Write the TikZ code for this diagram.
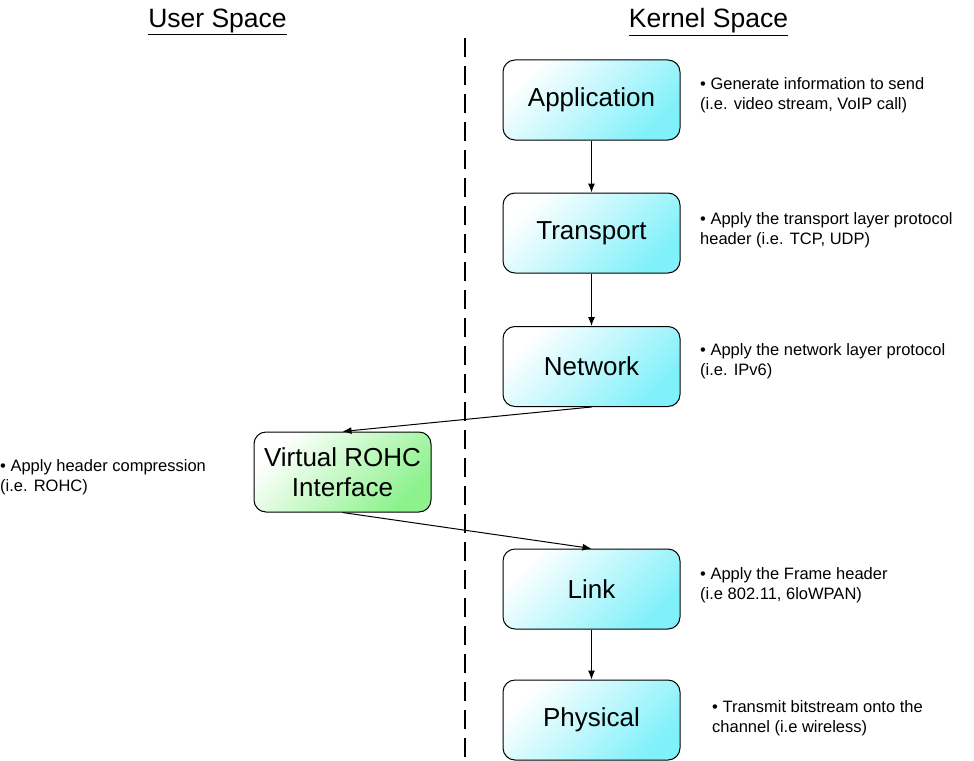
\documentclass[tikz,border=0pt]{standalone}
\usepackage{fontspec}
\setmainfont{Liberation Sans}
\usetikzlibrary{arrows.meta}
\definecolor{layercyan}{RGB}{128,240,250}
\definecolor{layergreen}{RGB}{140,242,140}
\tikzset{
  layer/.style={draw, rounded corners=12pt, line width=1pt,
    minimum width=177pt, minimum height=80pt, align=center,
    font=\fontsize{26}{30}\selectfont,
    top color=white, bottom color=#1, shading angle=45},
  layer/.default=layercyan,
  note/.style={anchor=west, align=left, inner sep=0pt,
    font=\fontsize{16.5}{19.5}\selectfont},
  head/.style={font=\fontsize{26.5}{30}\selectfont},
  flow/.style={-{Latex[length=9pt,width=7pt]}, line width=1pt}
}
\begin{document}
\begin{tikzpicture}[x=1pt,y=-1pt]
        \useasboundingbox (0,0) rectangle (974,760);
        \node[head] (U) at (217.5,22) {\underline{User Space}};
        \node[head] (K) at (708.5,22) {\underline{Kernel Space}};
        \coordinate (T) at (465,38);
        \coordinate (B) at (465,760);
        \draw[line width=2pt, dash pattern=on 19pt off 9pt] (T) -- (B);
        \node[layer] (App) at (591.5,100) {Application};
        \node[layer] (Tr) at (591.5,233) {Transport};
        \node[layer] (Net) at (591.5,366.5) {Network};
        \node[layer=layergreen] (Rohc) at (342.5,472) {Virtual ROHC\\Interface};
        \node[layer] (Lnk) at (591.5,589) {Link};
        \node[layer] (Phy) at (591.5,720) {Physical};
        \node[note] (nApp) at (700,95) {\textbullet\ Generate information to send\\(i.e. video stream, VoIP call)};
        \node[note] (nTr) at (700,230) {\textbullet\ Apply the transport layer protocol\\header (i.e. TCP, UDP)};
        \node[note] (nNet) at (700,361) {\textbullet\ Apply the network layer protocol\\(i.e. IPv6)};
        \node[note] (nRohc) at (0,477) {\textbullet\ Apply header compression\\(i.e. ROHC)};
        \node[note] (nLnk) at (700,585) {\textbullet\ Apply the Frame header\\(i.e 802.11, 6loWPAN)};
        \node[note] (nPhy) at (712,718) {\textbullet\ Transmit bitstream onto the\\channel (i.e wireless)};
        \draw[flow] (App) -- (Tr);
        \draw[flow] (Tr) -- (Net);
        \draw[flow] (Net.south) -- (Rohc.north);
        \draw[flow] (Rohc.south) -- (Lnk.north);
        \draw[flow] (Lnk) -- (Phy);
      \end{tikzpicture}
\end{document}
